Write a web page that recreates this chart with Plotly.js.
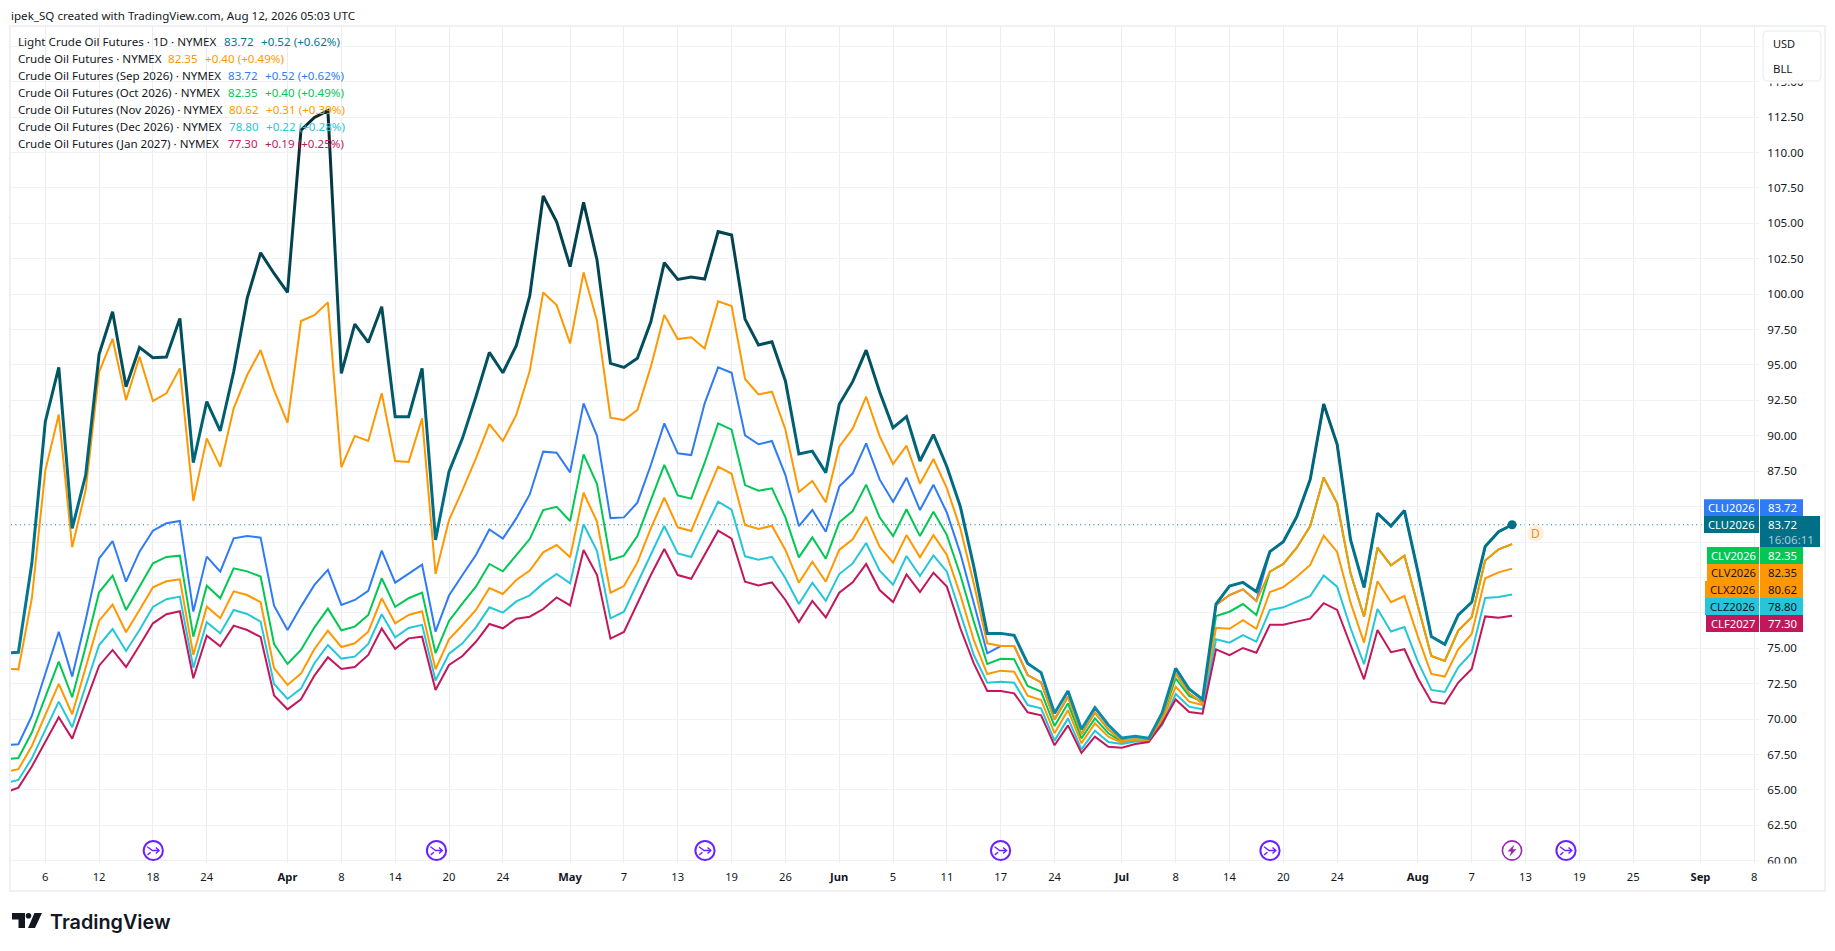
<!DOCTYPE html>
<html>
<head>
<meta charset="utf-8">
<script src="https://cdn.plot.ly/plotly-3.0.1.min.js"></script>
<style>html,body{margin:0;padding:0;background:#fff;overflow:hidden}#chart{width:1835px;height:951px}</style>
</head>
<body>
<div id="chart"></div>
<script>
const dates = ["2026-03-03","2026-03-04","2026-03-05","2026-03-06","2026-03-09","2026-03-10","2026-03-11","2026-03-12","2026-03-13","2026-03-16","2026-03-17","2026-03-18","2026-03-19","2026-03-20","2026-03-23","2026-03-24","2026-03-25","2026-03-26","2026-03-27","2026-03-30","2026-03-31","2026-04-01","2026-04-02","2026-04-06","2026-04-07","2026-04-08","2026-04-09","2026-04-10","2026-04-13","2026-04-14","2026-04-15","2026-04-16","2026-04-17","2026-04-20","2026-04-21","2026-04-22","2026-04-23","2026-04-24","2026-04-27","2026-04-28","2026-04-29","2026-04-30","2026-05-01","2026-05-04","2026-05-05","2026-05-06","2026-05-07","2026-05-08","2026-05-11","2026-05-12","2026-05-13","2026-05-14","2026-05-15","2026-05-18","2026-05-19","2026-05-20","2026-05-21","2026-05-22","2026-05-26","2026-05-27","2026-05-28","2026-05-29","2026-06-01","2026-06-02","2026-06-03","2026-06-04","2026-06-05","2026-06-08","2026-06-09","2026-06-10","2026-06-11","2026-06-12","2026-06-15","2026-06-16","2026-06-17","2026-06-18","2026-06-22","2026-06-23","2026-06-24","2026-06-25","2026-06-26","2026-06-29","2026-06-30","2026-07-01","2026-07-02","2026-07-06","2026-07-07","2026-07-08","2026-07-09","2026-07-10","2026-07-13","2026-07-14","2026-07-15","2026-07-16","2026-07-17","2026-07-20","2026-07-21","2026-07-22","2026-07-23","2026-07-24","2026-07-27","2026-07-28","2026-07-29","2026-07-30","2026-07-31","2026-08-03","2026-08-04","2026-08-05","2026-08-06","2026-08-07","2026-08-10","2026-08-11","2026-08-12","2026-08-13","2026-08-14","2026-08-17","2026-08-18","2026-08-19","2026-08-20","2026-08-21","2026-08-24","2026-08-25","2026-08-26","2026-08-27","2026-08-28","2026-08-31","2026-09-01","2026-09-02","2026-09-03","2026-09-04","2026-09-08"];

const lightCrude = [74.65,74.72,81.0,
91.0,94.83,83.47,87.23,95.77,98.76,93.46,96.24,95.51,95.56,
98.29,88.10,92.41,90.34,94.52,99.7,102.92,101.46,100.12,111.58,
112.48,112.95,94.41,97.89,96.59,99.11,91.35,91.35,94.76,82.65,
87.47,89.82,92.76,95.89,94.45,96.36,99.87,106.93,105.11,101.94,
106.48,102.41,95.11,94.83,95.47,98.05,102.22,101.04,101.21,101.07,
104.41,104.17,98.24,96.41,96.64,93.87,88.71,88.92,87.40,92.22,
93.82,96.05,93.11,90.57,91.35,88.22,90.08,87.82,85.0,80.76,
76.05,76.05,75.91,73.93,73.28,70.41,71.98,69.28,70.81,69.58,
68.66,68.78,68.64,70.45,73.58,72.12,71.39,78.12,79.39,79.65,
78.99,81.82,82.52,84.29,86.92,92.24,89.4,82.65,79.3,84.53,
83.63,84.72,80.41,75.82,75.28,77.35,78.25,82.18,83.23,83.72];

const crudeSecond = [73.56,73.51,78.53,
87.54,91.51,82.13,86.17,94.52,96.85,92.52,95.58,92.45,93.0,
94.76,85.40,89.82,87.82,91.94,94.29,96.05,93.23,90.92,98.1,
98.52,99.42,87.78,89.99,89.63,93.0,88.22,88.15,91.23,80.25,
84.05,86.17,88.41,90.83,89.63,91.47,94.57,100.12,99.23,96.52,
101.54,98.1,91.28,91.11,91.82,94.88,98.52,96.83,96.95,96.17,
99.49,99.16,94.01,92.92,93.11,90.45,86.03,86.81,85.31,89.23,
90.5,92.76,89.98,88.01,89.3,86.62,88.36,86.29,83.46,79.58,
75.35,75.16,75.16,73.11,72.59,69.98,71.58,68.95,70.45,69.28,
68.48,68.57,68.52,70.17,73.23,71.82,71.11,78.05,78.76,79.16,
78.34,80.41,80.95,82.1,83.63,87.05,85.24,80.29,77.23,82.1,
80.86,81.54,77.94,74.46,74.1,76.25,77.19,81.19,81.99,82.35];

const sep2026 = [68.17,68.22,70.22,
73.12,76.17,73.00,77.00,81.35,82.57,79.70,81.82,83.30,83.82,
83.99,77.59,81.47,80.41,82.76,82.93,82.81,78.01,76.29,77.94,
79.47,80.53,78.06,78.41,79.05,81.89,79.63,80.29,80.9,76.17,
78.72,80.17,81.58,83.39,82.74,84.17,85.86,88.88,88.81,87.42,
92.29,90.0,84.19,84.24,85.28,87.94,90.88,88.76,88.64,92.29,
94.83,94.45,90.03,89.4,89.63,87.23,83.63,84.76,83.23,86.41,
87.35,89.46,86.92,85.35,87.04,84.76,86.55,84.57,81.7,78.17,
74.64,75.16,75.16,73.11,72.59,69.98,71.58,68.95,70.45,69.28,
68.48,68.57,68.52,70.17,73.23,71.82,71.11,78.05,78.76,79.16,
78.34,81.82,82.52,84.29,86.92,92.24,89.4,82.65,79.3,84.53,
83.63,84.72,80.41,75.82,75.28,77.35,78.25,82.18,83.23,83.72];

const oct2026 = [67.16,67.25,69.05,
71.59,74.06,71.54,75.12,78.95,80.13,77.70,79.35,81.0,81.45,
81.54,75.82,79.42,78.53,80.64,80.43,80.06,75.30,73.89,74.88,
76.48,77.8,76.27,76.53,77.35,79.94,77.92,78.53,78.93,74.65,
76.93,78.17,79.35,80.95,80.43,81.58,82.71,84.76,84.99,83.98,
88.69,86.59,81.23,81.54,82.92,85.46,87.94,85.79,85.56,88.1,
90.88,90.43,86.52,86.12,86.29,84.24,81.42,82.83,81.32,83.89,
84.69,86.55,84.24,82.92,84.81,82.92,84.64,82.99,80.17,76.88,
73.89,74.26,74.22,72.34,71.94,69.51,71.11,68.64,70.05,69.0,
68.41,68.52,68.48,70.05,72.88,71.63,71.23,77.28,77.58,78.12,
77.35,80.41,80.95,82.1,83.63,87.05,85.24,80.29,77.23,82.1,
80.86,81.54,77.94,74.46,74.1,76.25,77.19,81.19,81.99,82.35];

const nov2026 = [66.27,66.46,68.10,
70.29,72.48,70.34,73.66,76.95,78.08,76.13,77.70,79.30,79.73,
79.87,74.53,77.94,77.12,79.02,78.76,78.25,73.59,72.41,73.21,
74.95,76.25,75.09,75.35,76.17,78.53,76.76,77.35,77.61,73.52,
75.63,76.64,77.7,79.25,78.83,79.82,80.48,81.77,82.29,81.42,
85.98,83.94,78.92,79.39,81.06,83.46,85.63,83.54,83.28,85.58,
87.82,87.32,83.7,83.42,83.65,81.94,79.63,81.11,79.7,81.94,
82.69,84.29,82.17,81.04,82.99,81.42,82.99,81.58,78.76,75.58,
73.18,73.42,73.35,71.65,71.35,69.0,70.64,68.29,69.7,68.76,
68.33,68.48,68.48,69.82,72.29,71.23,71.0,76.45,76.38,76.99,
76.38,78.97,79.32,80.05,80.88,82.95,81.8,78.22,75.4,79.73,
78.25,78.69,75.82,73.19,73.0,74.93,76.01,79.94,80.36,80.62];

const dec2026 = [65.47,65.70,67.23,
69.23,71.23,69.42,72.29,75.23,76.36,74.81,76.29,77.92,78.46,
78.65,73.63,76.83,76.06,77.70,77.42,76.88,72.48,71.42,72.15,
73.94,75.23,74.27,74.41,75.30,77.4,75.78,76.43,76.65,72.72,
74.62,75.35,76.48,77.89,77.51,78.31,78.74,79.58,80.24,79.58,
83.75,81.86,77.11,77.58,79.58,81.58,83.63,81.7,81.44,83.39,
85.35,84.78,81.49,81.25,81.46,79.94,78.12,79.63,78.34,80.24,
80.99,82.43,80.48,79.49,81.51,80.1,81.56,80.41,77.46,74.52,
72.57,72.64,72.57,70.99,70.76,68.48,70.05,67.86,69.18,68.38,
68.24,68.41,68.45,69.58,71.77,70.88,70.69,75.63,75.39,75.93,
75.46,77.7,77.89,78.29,78.69,80.13,79.35,76.41,73.87,77.78,
76.18,76.5,74.06,72.06,71.92,73.66,74.69,78.55,78.62,78.80];

const jan2027 = [64.81,65.16,66.65,
68.41,70.13,68.62,71.23,73.77,74.88,73.68,75.19,76.76,77.4,
77.61,72.88,75.89,75.14,76.6,76.29,75.8,71.66,70.69,71.4,
73.07,74.36,73.54,73.68,74.53,76.39,74.97,75.7,75.82,72.06,
73.82,74.45,75.46,76.71,76.41,77.09,77.23,77.77,78.59,78.03,
81.94,80.17,75.68,76.15,78.17,80.17,82.01,80.17,79.91,81.58,
83.3,82.74,79.7,79.44,79.65,78.41,76.85,78.34,77.18,78.92,
79.65,80.95,79.11,78.26,80.22,78.97,80.33,79.35,76.41,73.93,
71.98,71.98,71.82,70.48,70.26,68.15,69.56,67.61,68.76,68.05,
67.98,68.24,68.38,69.7,71.39,70.5,70.38,74.92,74.52,75.02,
74.69,76.66,76.66,76.88,77.09,78.18,77.71,75.23,72.81,76.29,
74.72,74.93,72.88,71.23,71.09,72.58,73.54,77.25,77.16,77.30];

const tickDates = ["2026-03-06","2026-03-12","2026-03-18","2026-03-24","2026-04-01","2026-04-08","2026-04-14","2026-04-20","2026-04-24","2026-05-01","2026-05-07","2026-05-13","2026-05-19","2026-05-26","2026-06-01","2026-06-05","2026-06-11","2026-06-17","2026-06-24","2026-07-01","2026-07-08","2026-07-14","2026-07-20","2026-07-24","2026-08-03","2026-08-07","2026-08-13","2026-08-19","2026-08-25","2026-09-01","2026-09-08"];
const tickLabels = ["6","12","18","24","<b>Apr</b>","8","14","20","24","<b>May</b>","7","13","19","26","<b>Jun</b>","5","11","17","24","<b>Jul</b>","8","14","20","24","<b>Aug</b>","7","13","19","25","<b>Sep</b>","8"];
const priceTicks = [60,62.5,65,67.5,70,72.5,75,77.5,80,82.5,85,87.5,90,92.5,95,97.5,100,102.5,105,107.5,110,112.5,115,117.5];
const priceTicksHiddenByTags = [77.5,80,82.5,85,117.5];

const legendNames = ["Light Crude Oil Futures · 1D · NYMEX","Crude Oil Futures · NYMEX","Crude Oil Futures (Sep 2026) · NYMEX","Crude Oil Futures (Oct 2026) · NYMEX","Crude Oil Futures (Nov 2026) · NYMEX","Crude Oil Futures (Dec 2026) · NYMEX","Crude Oil Futures (Jan 2027) · NYMEX"];
const legendValues = ["83.72","82.35","83.72","82.35","80.62","78.80","77.30"];
const legendChanges = ["+0.52 (+0.62%)","+0.40 (+0.49%)","+0.52 (+0.62%)","+0.40 (+0.49%)","+0.31 (+0.39%)","+0.22 (+0.28%)","+0.19 (+0.25%)"];
const legendColors = ["#00788f","#ff9800","#2f7bf6","#00c853","#ff9800","#26c6da","#c2185b"];
const legendValueX = [222.5,167,227,227,228,228,226.8];
const legendChangeX = [259.5,203.5,264,264,265,265,263.5];
const legendY = [42,59,75.3,92.3,109.3,126.7,143.3];

const tagNames = ["CLU2026","CLU2026","CLV2026","CLV2026","CLX2026","CLZ2026","CLF2027"];
const tagValues = ["83.72","83.72","82.35","82.35","80.62","78.80","77.30"];
const tagColors = ["#2f7bf6","#006f88","#00c853","#ff9800","#ff9800","#26c6da","#c2185b"];
const tagText = ["#ffffff","#ffffff","#ffffff","#131722","#131722","#131722","#ffffff"];
const countdown = "16:06:11";

const eventDays = [153.3,436.5,705,1000.6,1270,1566];

const PL=11, PR=1759, PT=27, PB=863;
const X=p=>(p-PL)/(PR-PL), Y=p=>(PB-p)/(PB-PT);
const FONT='"Noto Sans", sans-serif';

const anns=[], shapes=[];
function note(x,y,text,size,color,anchor,extra){
  anns.push(Object.assign({xref:'paper',yref:'paper',x:X(x),y:Y(y),text:text,showarrow:false,xanchor:anchor||'left',yanchor:'middle',borderpad:0,font:{family:FONT,size:size,color:color}},extra||{}));
}
function pathShape(points,opts){
  const d=points.map((p,i)=>(i?'L':'M')+X(p[0]).toFixed(5)+','+Y(p[1]).toFixed(5)).join(' ')+(opts.close?' Z':'');
  shapes.push({type:'path',xref:'paper',yref:'paper',path:d,fillcolor:opts.fill||'rgba(0,0,0,0)',line:{color:opts.stroke||'rgba(0,0,0,0)',width:opts.width||0},layer:'above'});
}
function circle(cx,cy,r,fill,stroke,w){
  shapes.push({type:'circle',xref:'paper',yref:'paper',x0:X(cx-r),x1:X(cx+r),y0:Y(cy+r),y1:Y(cy-r),fillcolor:fill,line:{color:stroke,width:w},layer:'above'});
}
function rect(x0,y0,x1,y1,fill,stroke,w,layer){
  shapes.push({type:'rect',xref:'paper',yref:'paper',x0:X(x0),x1:X(x1),y0:Y(y1),y1:Y(y0),fillcolor:fill,line:{color:stroke,width:w},layer:layer||'above'});
}

rect(10,26,1825,891,'rgba(0,0,0,0)','#f0f1f4',2,'above');
rect(1760,863.5,1823,870,'#ffffff','rgba(0,0,0,0)',0,'above');

shapes.push({type:'line',xref:'paper',yref:'y',x0:0,x1:1,y0:lightCrude[lightCrude.length-1],y1:lightCrude[lightCrude.length-1],line:{color:'#00788f',width:1,dash:'1px,3.4px'},layer:'below'});

note(10,15,"ipek_SQ created with TradingView.com, Aug 12, 2026 05:03 UTC",11.6,"#131722");
legendNames.forEach((n,i)=>{
  const y=legendY[i];
  note(17.2,y,n,11.6,"#131722");
  note(legendValueX[i],y,legendValues[i],11.6,legendColors[i]);
  note(legendChangeX[i],y,legendChanges[i],11.6,legendColors[i]);
});

rect(1762,80,1822,83.5,'#ffffff','rgba(0,0,0,0)',0,'above');
const bx0=1763,bx1=1821,by0=31,by1=81,br=5;
shapes.push({type:'path',xref:'paper',yref:'paper',layer:'above',fillcolor:'#ffffff',line:{color:'#f0f1f4',width:1.5},
  path:`M${X(bx0+br)},${Y(by0)} L${X(bx1-br)},${Y(by0)} Q${X(bx1)},${Y(by0)} ${X(bx1)},${Y(by0+br)} L${X(bx1)},${Y(by1-br)} Q${X(bx1)},${Y(by1)} ${X(bx1-br)},${Y(by1)} L${X(bx0+br)},${Y(by1)} Q${X(bx0)},${Y(by1)} ${X(bx0)},${Y(by1-br)} L${X(bx0)},${Y(by0+br)} Q${X(bx0)},${Y(by0)} ${X(bx0+br)},${Y(by0)} Z`});
note(1772,43.5,"USD",11,"#131722");
note(1772,69,"BLL",11.4,"#131722");

const tagY=[507.7,524.5,555.5,572.5,589.5,606.5,623.5];
const tagLeft=[1704,1704,1707,1707,1705,1705,1706];
tagNames.forEach((n,i)=>{
  const cy=tagY[i];
  rect(tagLeft[i],cy-8.5,1759,cy+8.5,tagColors[i],'rgba(0,0,0,0)',0,'above');
  note((tagLeft[i]+1759)/2+0.3,cy,n,11.2,tagText[i],'center');
  if(i===1){
    rect(1760,cy-8.5,1820,cy+22.5,tagColors[i],'rgba(0,0,0,0)',0,'above');
    note(1782.5,cy,tagValues[i],11.4,tagText[i],'center');
    note(1791,cy+14.5,countdown,11.6,'#a9cdd5','center');
  } else {
    rect(1760,cy-8.5,1803,cy+8.5,tagColors[i],'rgba(0,0,0,0)',0,'above');
    note(1782.5,cy,tagValues[i],11.4,tagText[i],'center');
  }
});

circle(1535.7,533.3,8.5,'#fff1e0','rgba(0,0,0,0)',0);
note(1535.7,533.3,"D",12,"#f7861e",'center');

eventDays.forEach(cx=>{
  const cy=850.5;
  circle(cx,cy,9.6,'#ffffff','#6b22ff',2);
  pathShape([[cx-6,cy-3.8],[cx-1,cy],[cx+5.5,cy]],{stroke:'#6b22ff',width:1.4});
  pathShape([[cx+2.5,cy-3],[cx+5.8,cy],[cx+2.5,cy+3]],{stroke:'#6b22ff',width:1.4});
  pathShape([[cx-5.8,cy+4.4],[cx-2.6,cy+1.8]],{stroke:'#6b22ff',width:1.4});
});
(function(){
  const cx=1512,cy=850.5;
  circle(cx,cy,9.6,'#ffffff','#9c27b0',1.6);
  pathShape([[cx+2.5,cy-6],[cx-4.5,cy+1],[cx-0.8,cy+1],[cx-2.5,cy+6],[cx+4.5,cy-1.2],[cx+0.6,cy-1.2]],{fill:'#9c27b0',close:true});
})();

pathShape([[12,913],[25,913],[25,928],[18.5,928],[18.5,919.5],[12,919.5]],{fill:'#131722',close:true});
circle(28.5,915.8,2.8,'#131722','rgba(0,0,0,0)',0);
pathShape([[34.5,913],[42,913],[35,928],[28,928]],{fill:'#131722',close:true});
note(48.5,921.8,"TradingView",19.8,"#131722",'left',{});
anns[anns.length-1].font.family='Inter, sans-serif';
anns[anns.length-1].font.weight=600;

const line=(y,color,width,name)=>({type:'scatter',mode:'lines',name:name,x:dates.slice(0,y.length),y:y,line:{color:color,width:width,shape:'linear'},hoverinfo:'skip',showlegend:false,cliponaxis:true});
const traces=[
  line(sep2026,'#2f7bf6',2,'CLU2026'),
  line(oct2026,'#00c853',2,'CLV2026'),
  line(nov2026,'#ff9800',2,'CLX2026'),
  line(dec2026,'#26c6da',2,'CLZ2026'),
  line(jan2027,'#c2185b',2,'CLF2027'),
  line(crudeSecond,'#ff9800',2,'CL2!'),
  line(lightCrude,'#006f88',3,'CL1!'),
  {type:'scatter',mode:'markers',x:[dates[lightCrude.length-1]],y:[lightCrude[lightCrude.length-1]],marker:{color:'#00708a',size:9},hoverinfo:'skip',showlegend:false,cliponaxis:false}
];

const layout={
  width:1835,height:951,paper_bgcolor:'#ffffff',plot_bgcolor:'#ffffff',showlegend:false,
  margin:{l:PL,r:1835-PR,t:PT,b:951-PB,pad:0},
  font:{family:FONT,size:12,color:'#131722'},
  xaxis:{type:'category',categoryorder:'array',categoryarray:dates,range:[0.451,130.35],autorange:false,tickmode:'array',tickvals:tickDates,ticktext:tickLabels,tickangle:0,
    showgrid:true,gridcolor:'#ecedf1',gridwidth:1,zeroline:false,showline:false,ticks:'outside',ticklen:4,tickcolor:'rgba(0,0,0,0)',tickfont:{family:FONT,size:11.2,color:'#131722'}},
  yaxis:{side:'right',range:[59.84,118.86],autorange:false,tickmode:'array',tickvals:priceTicks,ticktext:priceTicks.map(v=>priceTicksHiddenByTags.includes(v)?'':v.toFixed(2)),
    showgrid:true,gridcolor:'#f1f2f5',gridwidth:1,zeroline:false,showline:false,ticks:'outside',ticklen:5,tickcolor:'rgba(0,0,0,0)',tickfont:{family:FONT,size:11.6,color:'#131722'}},
  shapes:shapes,annotations:anns,hovermode:false
};

const gradStops=[[112.95,'#082730'],[105,'#03404d'],[95,'#01515f'],[90,'#016376'],[84,'#006f88'],[75,'#047c95'],[68.64,'#0a90ab']];
Plotly.newPlot('chart',traces,layout,{staticPlot:true,displayModeBar:false}).then(gd=>{
  const svg=gd.querySelector('.main-svg');
  const defs=svg.querySelector('defs');
  const grad=document.createElementNS('http://www.w3.org/2000/svg','linearGradient');
  grad.setAttribute('id','mainLineGradient');
  grad.setAttribute('x1','0');grad.setAttribute('y1','0');grad.setAttribute('x2','0');grad.setAttribute('y2','1');
  gradStops.forEach(s=>{
    const st=document.createElementNS('http://www.w3.org/2000/svg','stop');
    st.setAttribute('offset',((112.95-s[0])/(112.95-68.64)).toFixed(4));
    st.setAttribute('stop-color',s[1]);
    grad.appendChild(st);
  });
  defs.appendChild(grad);
  const tr=gd.querySelectorAll('.scatterlayer .trace')[6];
  const p=tr&&tr.querySelector('path.js-line');
  if(p)p.style.stroke='url(#mainLineGradient)';
});
</script>
</body>
</html>
